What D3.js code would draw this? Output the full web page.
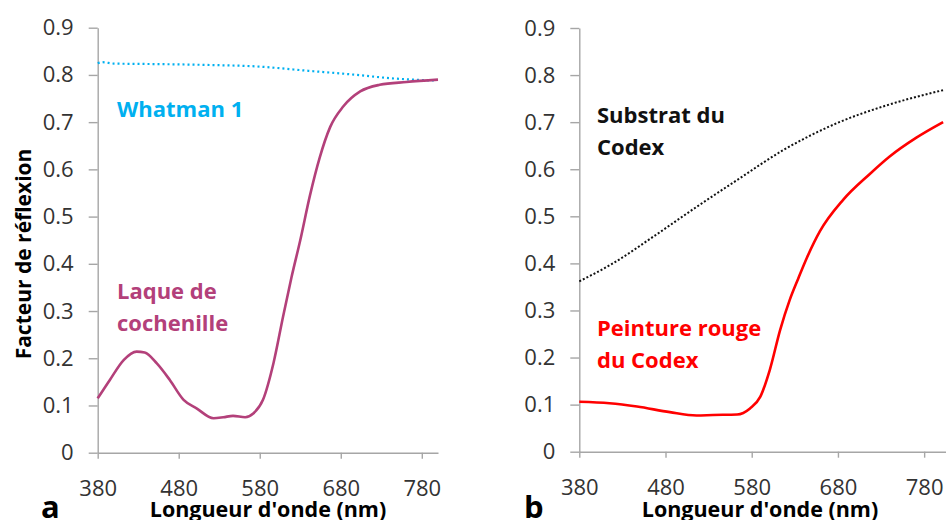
<!DOCTYPE html>
<html><head><meta charset="utf-8">
<script src="https://cdn.jsdelivr.net/npm/d3@7"></script>
<style>
html,body{margin:0;padding:0;background:#fff;}
svg{display:block;}
</style></head>
<body>
<svg id="chart" width="946" height="520"></svg>
<script>
// ---- Data ----
const xTicks = [380, 480, 580, 680, 780];
const yTicks = [0, 0.1, 0.2, 0.3, 0.4, 0.5, 0.6, 0.7, 0.8, 0.9];
const yTickLabels = ["0", "0.1", "0.2", "0.3", "0.4", "0.5", "0.6", "0.7", "0.8", "0.9"];

// Panel a
const whatmanWl = [380, 386, 400, 450, 519, 576, 638, 700, 741, 770, 798];
const whatmanR  = [0.825, 0.827, 0.824, 0.823, 0.821, 0.818, 0.809, 0.800, 0.793, 0.790, 0.788];
const laqueWl = [380, 395, 412, 428, 438, 453, 469, 486, 502, 523, 535, 547, 562, 572, 584, 597, 609, 619, 630, 642, 654, 667, 683, 704, 728, 761, 800];
const laqueR  = [0.115, 0.154, 0.196, 0.214, 0.212, 0.189, 0.154, 0.112, 0.094, 0.073, 0.075, 0.078, 0.075, 0.083, 0.112, 0.19, 0.29, 0.37, 0.45, 0.545, 0.625, 0.690, 0.733, 0.765, 0.779, 0.785, 0.790];

// Panel b
const substratWl = [380, 419, 466, 516, 563, 617, 679, 737, 802];
const substratR  = [0.362, 0.400, 0.457, 0.520, 0.577, 0.641, 0.698, 0.736, 0.768];
const peintureWl = [380, 415, 447, 485, 516, 535, 563, 578, 590, 601, 613, 624, 634, 644, 659, 686, 717, 740, 771, 802];
const peintureR  = [0.106, 0.103, 0.096, 0.084, 0.077, 0.078, 0.079, 0.092, 0.117, 0.174, 0.259, 0.322, 0.368, 0.412, 0.468, 0.535, 0.590, 0.627, 0.667, 0.700];

const svg = d3.select("#chart");
const FONT = "'Open Sans', 'Liberation Sans', sans-serif";
const AXIS_COLOR = "#A6A6A6";
const TICK_TEXT = "#333333";

function panel(cfg) {
  const x = d3.scaleLinear().domain(cfg.xDomain).range(cfg.xRange);
  const y = d3.scaleLinear().domain([0, 0.9]).range(cfg.yRange);
  const g = svg.append("g");

  const ya = g.append("g").attr("transform", `translate(${cfg.xRange[0]},0)`)
    .call(d3.axisLeft(y).tickValues(yTicks).tickFormat((d, i) => yTickLabels[i]).tickSize(9).tickPadding(15).tickSizeOuter(0));
  const xa = g.append("g").attr("transform", `translate(0,${cfg.yRange[0]})`)
    .call(d3.axisBottom(x).tickValues(xTicks).tickFormat(d3.format("d")).tickSize(6).tickSizeOuter(0));
  [ya, xa].forEach(a => {
    a.select(".domain").attr("stroke", AXIS_COLOR).attr("stroke-width", 1.4);
    a.selectAll(".tick line").attr("stroke", AXIS_COLOR).attr("stroke-width", 1.4);
    a.selectAll("text").attr("fill", TICK_TEXT).style("font-family", FONT).style("font-size", "22px");
  });
  xa.selectAll("text").attr("y", 43).attr("dy", null);

  const line = d3.line().x(d => x(d[0])).y(d => y(d[1])).curve(d3.curveMonotoneX);
  cfg.series.forEach(s => {
    const pts = s.wl.map((w, i) => [w, s.r[i]]);
    const p = g.append("path").datum(pts).attr("d", line)
      .attr("fill", "none").attr("stroke", s.color).attr("stroke-width", s.width);
    if (s.dash) p.attr("stroke-dasharray", s.dash);
    s.label.forEach((t, i) => {
      g.append("text").attr("x", s.lx).attr("y", s.ly + i * 31.5)
        .attr("fill", s.color).style("font-family", FONT).style("font-weight", "bold")
        .style("font-size", "22px").text(t);
    });
  });

  g.append("text").attr("x", cfg.titleX).attr("y", 517).attr("text-anchor", "middle")
    .style("font-family", FONT).style("font-weight", "bold").style("font-size", "21.5px")
    .attr("fill", "#000").text("Longueur d'onde (nm)");
  g.append("text").attr("x", cfg.letterX).attr("y", 518)
    .style("font-family", FONT).style("font-weight", "bold").style("font-size", "31px")
    .attr("fill", "#000").text(cfg.letter);
  return {x, y};
}

panel({
  xDomain: [380, 800], xRange: [97.7, 438], yRange: [452.7, 27.7],
  titleX: 268, letterX: 41, letter: "a",
  series: [
    {wl: whatmanWl, r: whatmanR, color: "#00B0F0", width: 2.2, dash: "2,3", label: ["Whatman 1"], lx: 117, ly: 117},
    {wl: laqueWl, r: laqueR, color: "#B3407A", width: 2.6, label: ["Laque de", "cochenille"], lx: 117, ly: 299}
  ]
});
panel({
  xDomain: [380, 805], xRange: [579.3, 945.7], yRange: [451.7, 28],
  titleX: 760, letterX: 524, letter: "b",
  series: [
    {wl: substratWl, r: substratR, color: "#111", width: 2, dash: "2,2", label: ["Substrat du", "Codex"], lx: 597, ly: 123},
    {wl: peintureWl, r: peintureR, color: "#FF0000", width: 2.6, label: ["Peinture rouge", "du Codex"], lx: 597, ly: 336}
  ]
});

svg.append("text").attr("transform", "translate(31,254) rotate(-90)").attr("text-anchor", "middle")
  .style("font-family", FONT).style("font-weight", "bold").style("font-size", "21px")
  .attr("fill", "#000").text("Facteur de réflexion");
</script>
</body></html>
